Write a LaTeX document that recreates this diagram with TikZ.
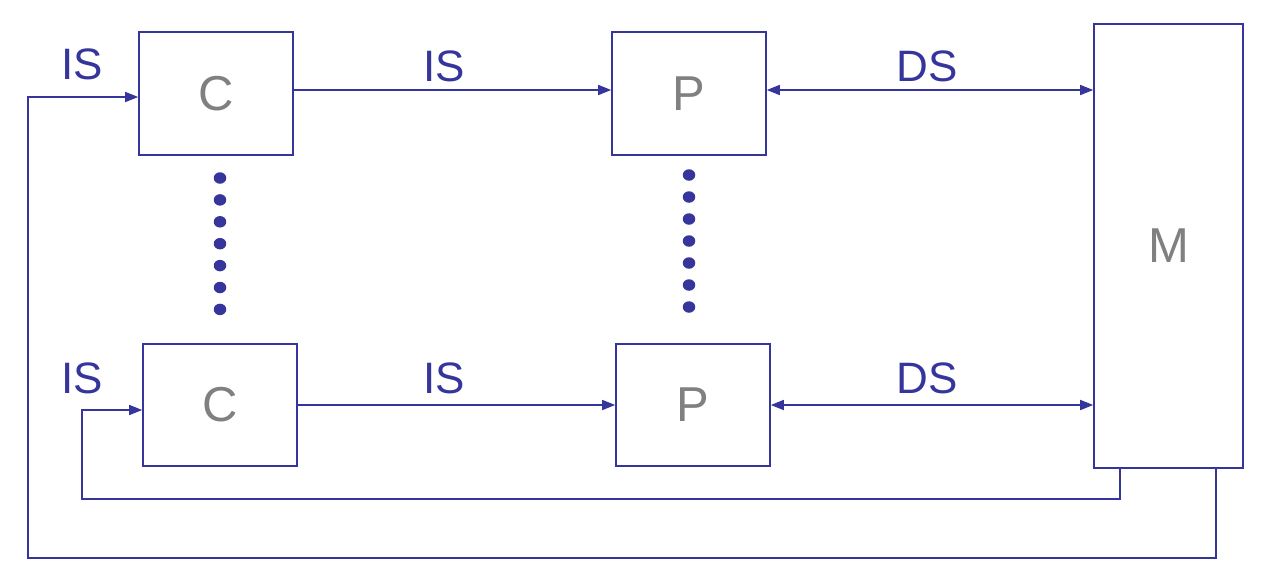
\documentclass[tikz,border=0pt]{standalone}
\usepackage{fontspec}
\setmainfont{Liberation Sans}
\usetikzlibrary{arrows.meta,calc,shapes.geometric}
\definecolor{ln}{HTML}{35359C}
\definecolor{gl}{HTML}{808080}
\begin{document}
\begin{tikzpicture}[x=1pt,y=-1pt,
  box/.style={draw=ln, line width=1.6pt, minimum width=154pt, minimum height=123pt, inner sep=0pt, text=gl, font=\fontsize{49}{49}\selectfont},
  lbl/.style={text=ln, inner sep=0pt, font=\fontsize{44}{44}\selectfont},
  conn/.style={draw=ln, line width=1.6pt, -{Triangle[length=13pt,width=10pt]}},
  bidir/.style={draw=ln, line width=1.6pt, {Triangle[length=13pt,width=10pt]}-{Triangle[length=13pt,width=10pt]}},
  dotnode/.style={ellipse, fill=ln, minimum width=12.5pt, minimum height=11.5pt, inner sep=0pt}]
\useasboundingbox (0,0) rectangle (1268,582);
\node[box] (C1) at (216,93.5) {C};
\node[box] (P1) at (689,93.5) {P};
\node[box, minimum height=122pt] (C2) at (220,405) {C};
\node[box, minimum height=122pt] (P2) at (693,405) {P};
\node[box, minimum width=149pt, minimum height=444pt] (M) at (1168.5,246) {M};
\node[lbl] (l1) at (82,64) {IS};
\node[lbl] (l2) at (444,66) {IS};
\node[lbl] (l3) at (927,66) {DS};
\node[lbl] (l4) at (82,378) {IS};
\node[lbl] (l5) at (444,378) {IS};
\node[lbl] (l6) at (927,378) {DS};
\foreach \i in {0,...,6} {
  \node[dotnode] (da\i) at (220,178+\i*21.9) {};
  \node[dotnode] (db\i) at (689,175+\i*22) {};
}
\draw[conn] (C1.east |- 0,90) -- (P1.west |- 0,90);
\draw[bidir] (P1.east |- 0,90) -- (M.west |- 0,90);
\draw[conn] (C2.east |- 0,405) -- (P2.west |- 0,405);
\draw[bidir] (P2.east |- 0,405) -- (M.west |- 0,405);
\coordinate (o1) at (1216,558);
\coordinate (o2) at (28,558);
\coordinate (i1) at (1120,499);
\coordinate (i2) at (82,499);
\draw[conn] (M.south -| o1) -- (o1) -- (o2) -- (o2 |- 0,97) -- (C1.west |- 0,97);
\draw[conn] (M.south -| i1) -- (i1) -- (i2) -- (i2 |- 0,410) -- (C2.west |- 0,410);
\end{tikzpicture}
\end{document}
